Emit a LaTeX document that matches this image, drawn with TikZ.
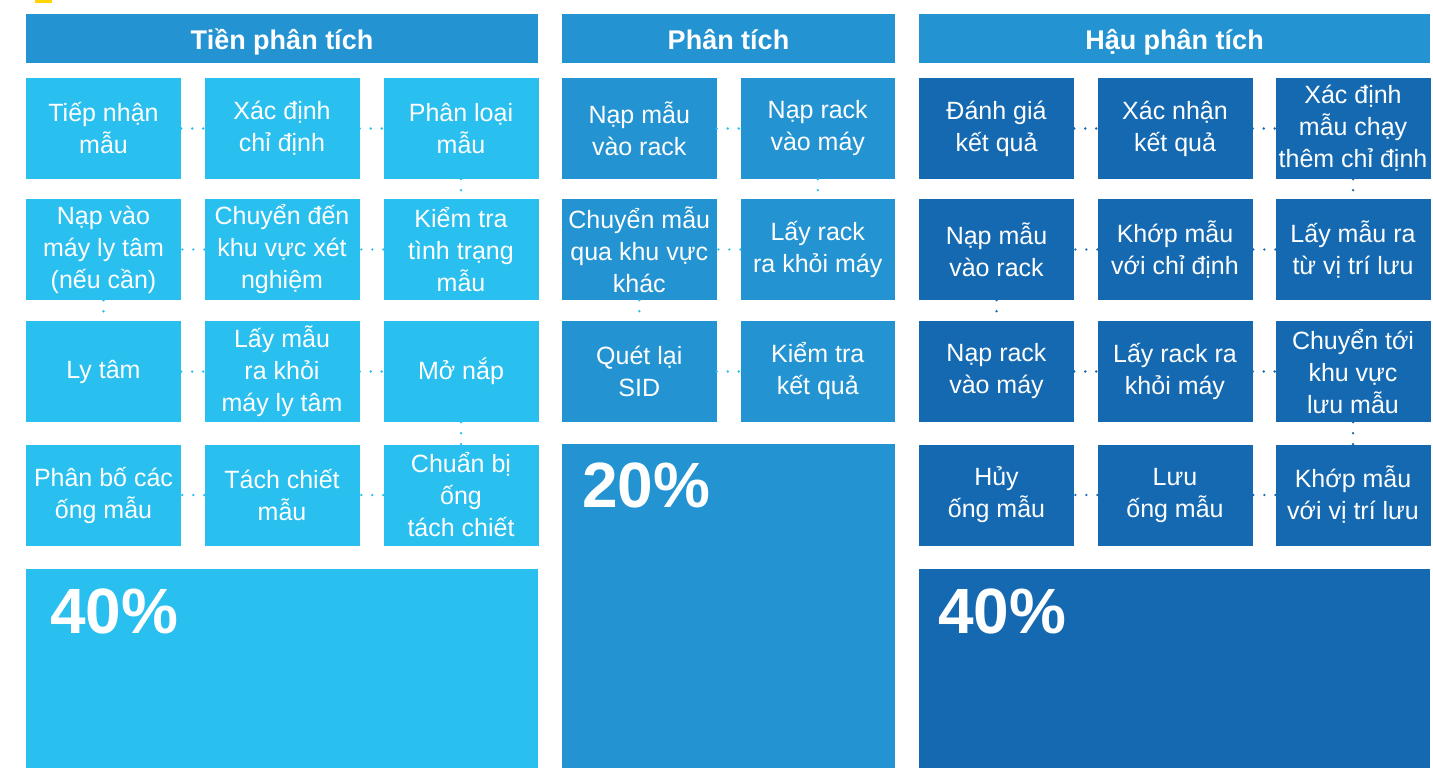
\documentclass[tikz,border=0pt]{standalone}
\usepackage{fontspec}
\setmainfont{Liberation Sans}
\definecolor{cLight}{HTML}{29BFEF}
\definecolor{cMid}{HTML}{2393D1}
\definecolor{cDark}{HTML}{1569B1}
\definecolor{cYellow}{HTML}{FFD400}
\begin{document}
\begin{tikzpicture}[x=1pt,y=-1pt,
  box/.style={minimum width=155pt, minimum height=101pt, inner sep=0pt, align=center, text=white, font=\fontsize{25}{32}\selectfont},
  lbox/.style={box, fill=cLight},
  mbox/.style={box, fill=cMid},
  dbox/.style={box, fill=cDark},
  header/.style={fill=cMid, minimum height=49pt, inner sep=0pt, text height=29pt, text depth=6pt, text=white, font=\bfseries\fontsize{27}{32}\selectfont},
  big/.style={inner sep=0pt},
  pct/.style={anchor=base west, inner sep=0pt, text=white, font=\bfseries\fontsize{64}{64}\selectfont},
  conn/.style={line width=2.6pt, line cap=round, dash pattern=on 0pt off 11pt},
  lconn/.style={conn, draw=cLight},
  dconn/.style={conn, draw=cDark}
]
\useasboundingbox (0,0) rectangle (1433,768);
\fill[white] (0,0) rectangle (1433,768);
\fill[cYellow] (35,0) rectangle (52,3);

% headers
\node[header, minimum width=512pt] (h1) at (282,38.5) {Tiền phân tích};
\node[header, minimum width=333pt] (h2) at (728.5,38.5) {Phân tích};
\node[header, minimum width=511pt] (h3) at (1174.5,38.5) {Hậu phân tích};

% column 1
\node[lbox] (a11) at (103.5,128.5) {Tiếp nhận\\mẫu};
\node[lbox] (a12) at (282,128.5) {Xác định\\chỉ định};
\node[lbox] (a13) at (461,128.5) {Phân loại\\mẫu};
\node[lbox] (a21) at (103.5,249.5) {Nạp vào\\máy ly tâm\\(nếu cần)};
\node[lbox] (a22) at (282,249.5) {Chuyển đến\\khu vực xét\\nghiệm};
\node[lbox] (a23) at (461,249.5) {Kiểm tra\\tình trạng\\mẫu};
\node[lbox] (a31) at (103.5,371.5) {Ly tâm};
\node[lbox] (a32) at (282,371.5) {Lấy mẫu\\ra khỏi\\máy ly tâm};
\node[lbox] (a33) at (461,371.5) {Mở nắp};
\node[lbox] (a41) at (103.5,495) {Phân bố các\\ống mẫu};
\node[lbox] (a42) at (282,495) {Tách chiết\\mẫu};
\node[lbox] (a43) at (461,495) {Chuẩn bị\\ống\\tách chiết};
\node[big, fill=cLight, minimum width=512pt, minimum height=199pt] (p1) at (282,668.5) {};
\node[pct] (t1) at (50,633) {40\%};

% column 2
\node[mbox, minimum width=154.5pt] (b11) at (639.25,128.5) {Nạp mẫu\\vào rack};
\node[mbox, minimum width=154.5pt] (b12) at (817.75,128.5) {Nạp rack\\vào máy};
\node[mbox, minimum width=154.5pt] (b21) at (639.25,249.5) {Chuyển mẫu\\qua khu vực\\khác};
\node[mbox, minimum width=154.5pt] (b22) at (817.75,249.5) {Lấy rack\\ra khỏi máy};
\node[mbox, minimum width=154.5pt] (b31) at (639.25,371.5) {Quét lại\\SID};
\node[mbox, minimum width=154.5pt] (b32) at (817.75,371.5) {Kiểm tra\\kết quả};
\node[big, fill=cMid, minimum width=333pt, minimum height=324pt] (p2) at (728.5,606) {};
\node[pct] (t2) at (582,507) {20\%};

% column 3
\node[dbox] (c11) at (996.5,128.5) {Đánh giá\\kết quả};
\node[dbox] (c12) at (1175,128.5) {Xác nhận\\kết quả};
\node[dbox] (c13) at (1353,128.5) {Xác định\\mẫu chạy\\thêm chỉ định};
\node[dbox] (c21) at (996.5,249.5) {Nạp mẫu\\vào rack};
\node[dbox] (c22) at (1175,249.5) {Khớp mẫu\\với chỉ định};
\node[dbox] (c23) at (1353,249.5) {Lấy mẫu ra\\từ vị trí lưu};
\node[dbox] (c31) at (996.5,371.5) {Nạp rack\\vào máy};
\node[dbox] (c32) at (1175,371.5) {Lấy rack ra\\khỏi máy};
\node[dbox] (c33) at (1353,371.5) {Chuyển tới\\khu vực\\lưu mẫu};
\node[dbox] (c41) at (996.5,495) {Hủy\\ống mẫu};
\node[dbox] (c42) at (1175,495) {Lưu\\ống mẫu};
\node[dbox] (c43) at (1353,495) {Khớp mẫu\\với vị trí lưu};
\node[big, fill=cDark, minimum width=511pt, minimum height=199pt] (p3) at (1174.5,668.5) {};
\node[pct] (t3) at (938,633) {40\%};

% connectors column 1
\draw[lconn] (a11) -- (a12);
\draw[lconn] (a12) -- (a13);
\draw[lconn] (a13) -- (a23);
\draw[lconn] (a23) -- (a22);
\draw[lconn] (a22) -- (a21);
\draw[lconn] (a21) -- (a31);
\draw[lconn] (a31) -- (a32);
\draw[lconn] (a32) -- (a33);
\draw[lconn] (a33) -- (a43);
\draw[lconn] (a43) -- (a42);
\draw[lconn] (a42) -- (a41);

% connectors column 2
\draw[lconn] (b11) -- (b12);
\draw[lconn] (b12) -- (b22);
\draw[lconn] (b22) -- (b21);
\draw[lconn] (b21) -- (b31);
\draw[lconn] (b31) -- (b32);

% connectors column 3
\draw[dconn] (c11) -- (c12);
\draw[dconn] (c12) -- (c13);
\draw[dconn] (c13) -- (c23);
\draw[dconn] (c23) -- (c22);
\draw[dconn] (c22) -- (c21);
\draw[dconn] (c21) -- (c31);
\draw[dconn] (c31) -- (c32);
\draw[dconn] (c32) -- (c33);
\draw[dconn] (c33) -- (c43);
\draw[dconn] (c43) -- (c42);
\draw[dconn] (c42) -- (c41);
\end{tikzpicture}
\end{document}
